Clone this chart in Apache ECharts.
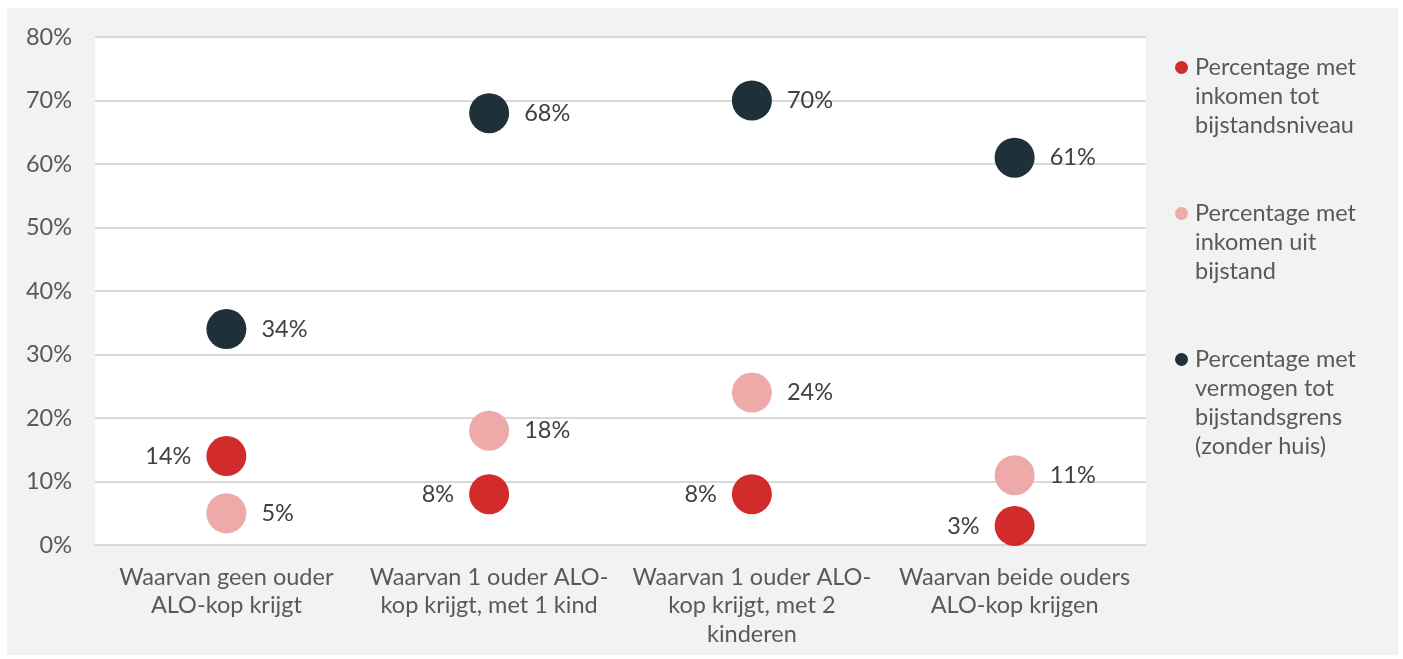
<!DOCTYPE html>
<html>
<head>
<meta charset="utf-8">
<script src="https://cdn.jsdelivr.net/npm/echarts@6/dist/echarts.min.js"></script>
<style>
html,body{margin:0;padding:0;background:#fff;width:1403px;height:659px;overflow:hidden;}
#c{position:absolute;left:7px;top:8px;width:1391px;height:647px;}
</style>
</head>
<body>
<div id="c"></div>
<script>
const categories = [
  "Waarvan geen ouder\nALO-kop krijgt",
  "Waarvan 1 ouder ALO-\nkop krijgt, met 1 kind",
  "Waarvan 1 ouder ALO-\nkop krijgt, met 2\nkinderen",
  "Waarvan beide ouders\nALO-kop krijgen"
];
const seriesNames = [
  "Percentage met inkomen tot bijstandsniveau",
  "Percentage met inkomen uit bijstand",
  "Percentage met vermogen tot bijstandsgrens (zonder huis)"
];
const legendLines = [
  ["Percentage met", "inkomen tot", "bijstandsniveau"],
  ["Percentage met", "inkomen uit", "bijstand"],
  ["Percentage met", "vermogen tot", "bijstandsgrens", "(zonder huis)"]
];
const inkomenTot = [14, 8, 8, 3];
const inkomenUit = [5, 18, 24, 11];
const vermogen = [34, 68, 70, 61];
const yTicks = [0, 10, 20, 30, 40, 50, 60, 70, 80];

const colors = ["#d12b2b", "#eeaaa9", "#1e3038"];
const labelPos = ["left", "right", "right"];
const FONT = "Lato";
const FS = 23.5;

const chart = echarts.init(document.getElementById('c'));
const dataSets = [inkomenTot, inkomenUit, vermogen];

const rich = {ind: {width: 20, fontSize: FS, fontFamily: FONT}};
colors.forEach((c, i) => {
  rich['dot' + i] = {width: 13, height: 13, borderRadius: 6.5, backgroundColor: c, fontSize: FS};
  rich['sp' + i] = {width: 7, fontSize: FS};
});
rich.t = {fontSize: FS, fontFamily: FONT, color: '#595959', lineHeight: 29};

chart.setOption({
  backgroundColor: '#f2f2f2',
  textStyle: {fontFamily: FONT},
  grid: {left: 88, right: 252, top: 29, bottom: 110, show: true, backgroundColor: '#ffffff', borderWidth: 0},
  legend: {
    orient: 'vertical',
    left: 1163,
    top: 45,
    padding: 0,
    itemWidth: 0,
    itemHeight: 0,
    itemGap: 59,
    selectedMode: false,
    data: seriesNames,
    textStyle: {fontSize: FS, fontFamily: FONT, color: '#595959', lineHeight: 29, rich: rich},
    formatter: function (name) {
      const i = seriesNames.indexOf(name);
      const lines = legendLines[i];
      return lines.map((l, k) => (k === 0 ? '{dot' + i + '|}{sp' + i + '|}' : '{ind|}') + '{t|' + l + '}').join('\n');
    }
  },
  xAxis: {
    type: 'category',
    data: categories,
    boundaryGap: true,
    axisLine: {show: true, lineStyle: {color: '#d9d9d9', width: 2}},
    axisTick: {show: false},
    axisLabel: {fontSize: FS, fontFamily: FONT, color: '#595959', margin: 18, lineHeight: 28.5, interval: 0}
  },
  yAxis: {
    type: 'value',
    min: yTicks[0],
    max: yTicks[yTicks.length - 1],
    interval: 10,
    axisLine: {show: false},
    axisTick: {show: false},
    splitLine: {lineStyle: {color: '#d9d9d9', width: 2}},
    axisLabel: {fontSize: FS, fontFamily: FONT, color: '#595959', margin: 23, formatter: '{value}%'}
  },
  series: dataSets.map((d, i) => ({
    name: seriesNames[i],
    type: 'scatter',
    data: d,
    symbol: 'circle',
    symbolSize: 40,
    itemStyle: {color: colors[i], opacity: 1},
    label: {
      show: true,
      position: labelPos[i],
      distance: 15,
      formatter: '{c}%',
      fontSize: FS,
      fontFamily: FONT,
      color: '#404040'
    },
    emphasis: {disabled: true}
  }))
});
</script>
</body>
</html>
